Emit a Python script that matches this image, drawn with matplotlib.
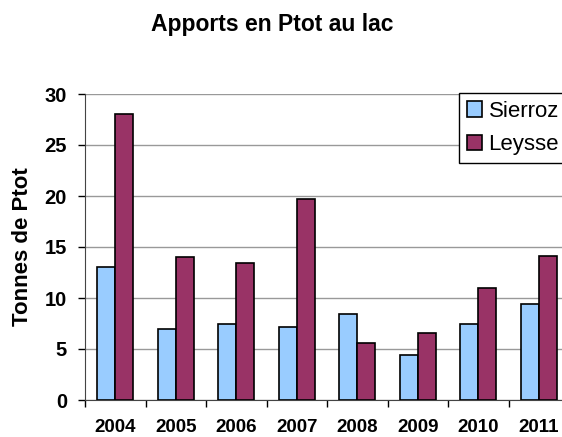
import numpy as np
import matplotlib.pyplot as plt

plt.rcParams['font.family'] = ['Liberation Sans', 'DejaVu Sans']

years = ['2004', '2005', '2006', '2007', '2008', '2009', '2010', '2011']
sierroz = [13.0, 7.0, 7.5, 7.2, 8.4, 4.4, 7.5, 9.4]
leysse = [28.0, 14.0, 13.4, 19.7, 5.6, 6.6, 11.0, 14.1]

fig = plt.figure(figsize=(5.62, 4.37), dpi=100)
ax = fig.add_axes([85/562, 37/437, 484/562, 306/437])

x = np.arange(len(years))
w = 0.3
ax.bar(x - w/2, sierroz, w, color='#99CCFF', edgecolor='black', linewidth=1.2, label='Sierroz', zorder=3)
ax.bar(x + w/2, leysse, w, color='#993366', edgecolor='black', linewidth=1.2, label='Leysse', zorder=3)

ax.set_xlim(-0.5, len(years) - 0.5)
ax.set_ylim(0, 30)
ax.set_yticks(range(0, 31, 5))
ax.yaxis.grid(True, color='#999999', linewidth=1, zorder=0)
ax.set_axisbelow(True)

ax.set_xticks(x)
ax.set_xticklabels(years, fontsize=13.5, fontweight='bold')
ax.tick_params(axis='x', which='major', length=0, pad=14)
ax.set_xticks(np.arange(-0.5, len(years)), minor=True)
ax.tick_params(axis='x', which='minor', length=5, width=1, direction='out')
ax.tick_params(axis='y', length=5, width=1, labelsize=14.5, pad=8)
for lab in ax.get_yticklabels():
    lab.set_fontweight('bold')

for s in ['top', 'right']:
    ax.spines[s].set_visible(False)
ax.spines['left'].set_color('#444444')
ax.spines['bottom'].set_color('#444444')

ax.set_ylabel('Tonnes de Ptot', fontsize=16, fontweight='bold', labelpad=8)

fig.text(272/562, 1 - 25/437, 'Apports en Ptot au lac', ha='center', va='center',
         fontsize=16.5, fontweight='bold')

leg = fig.legend(loc='upper left', bbox_to_anchor=(459/562, 1 - 93/437), fontsize=16,
                 frameon=True, fancybox=False, edgecolor='black', framealpha=1,
                 handlelength=0.68, handleheight=0.68, handletextpad=0.3,
                 labelspacing=0.55, borderpad=0.35, borderaxespad=0)
leg.get_frame().set_linewidth(1)

fig.savefig('out.png', dpi=100)
